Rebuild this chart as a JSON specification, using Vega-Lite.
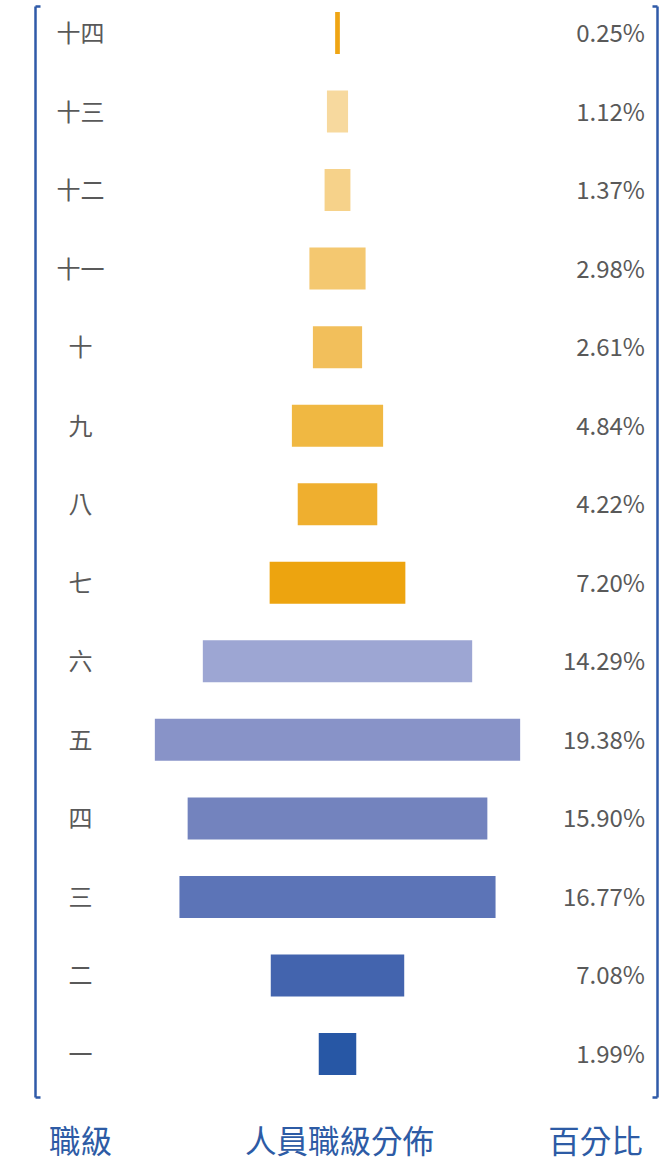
{
  "$schema": "https://vega.github.io/schema/vega-lite/v6.json",
  "width": 622,
  "height": 1091,
  "autosize": {"type": "none"},
  "padding": {"left": 35, "top": 6, "right": 14, "bottom": 63},
  "background": "white",
  "config": {"font": "Noto Sans CJK TC", "view": {"stroke": null}},
  "data": {
    "values": [
      {"level": "十四", "pct": 0.0025},
      {"level": "十三", "pct": 0.0112},
      {"level": "十二", "pct": 0.0137},
      {"level": "十一", "pct": 0.0298},
      {"level": "十", "pct": 0.0261},
      {"level": "九", "pct": 0.0484},
      {"level": "八", "pct": 0.0422},
      {"level": "七", "pct": 0.0720},
      {"level": "六", "pct": 0.1429},
      {"level": "五", "pct": 0.1938},
      {"level": "四", "pct": 0.1590},
      {"level": "三", "pct": 0.1677},
      {"level": "二", "pct": 0.0708},
      {"level": "一", "pct": 0.0199}
    ]
  },
  "layer": [
    {
      "mark": {"type": "bar"},
      "encoding": {
        "x": {
          "field": "pct",
          "type": "quantitative",
          "stack": "center",
          "scale": {"domain": [-0.06358, 0.2664], "nice": false, "zero": false},
          "axis": {
            "orient": "bottom",
            "domain": true,
            "domainColor": "#2F5AA8",
            "domainWidth": 2.5,
            "domainDash": [5, 612],
            "ticks": false,
            "labels": false,
            "grid": false,
            "title": "人員職級分佈",
            "titleFontSize": 31.5,
            "titleFontWeight": "normal",
            "titleColor": "#2D5BA5",
            "titleX": 304,
            "titleY": 46,
            "titleAlign": "center",
            "titleBaseline": "middle"
          }
        },
        "y": {
          "field": "level",
          "type": "nominal",
          "sort": null,
          "scale": {"paddingInner": 0.465, "paddingOuter": 0.178, "align": 0.214},
          "axis": {
            "orient": "left",
            "domain": true,
            "domainColor": "#2F5AA8",
            "domainWidth": 2.5,
            "ticks": false,
            "tickSize": 0,
            "grid": false,
            "labelPadding": -45,
            "labelOffset": 2,
            "labelAlign": "center",
            "labelBaseline": "middle",
            "labelFontSize": 24,
            "labelColor": "#595959",
            "labelOverlap": false,
            "title": "職級",
            "titleAngle": 0,
            "titleX": 45,
            "titleY": 1137,
            "titleAlign": "center",
            "titleBaseline": "middle",
            "titleFontSize": 31.5,
            "titleFontWeight": "normal",
            "titleColor": "#2D5BA5"
          }
        },
        "color": {
          "field": "level",
          "type": "nominal",
          "sort": null,
          "legend": null,
          "scale": {
            "domain": ["十四", "十三", "十二", "十一", "十", "九", "八", "七", "六", "五", "四", "三", "二", "一"],
            "range": ["#EFA514", "#F7D99E", "#F6D28A", "#F4C870", "#F2BF5B", "#F0B842", "#EFAF2F", "#EDA40F", "#9DA6D3", "#8893C8", "#7383BE", "#5C74B7", "#4364AE", "#2757A5"]
          }
        }
      }
    },
    {
      "mark": {"type": "text", "align": "right", "baseline": "middle", "dy": 2, "fontSize": 24, "color": "#595959"},
      "encoding": {
        "x": {
          "datum": 0.26003,
          "type": "quantitative",
          "axis": {
            "orient": "top",
            "domain": true,
            "domainColor": "#2F5AA8",
            "domainWidth": 2.5,
            "domainDash": [5, 612],
            "ticks": false,
            "labels": false,
            "grid": false,
            "title": null
          }
        },
        "y": {
          "field": "level",
          "type": "nominal",
          "sort": null,
          "axis": {
            "orient": "right",
            "domain": true,
            "domainColor": "#2F5AA8",
            "domainWidth": 2.5,
            "ticks": false,
            "tickSize": 0,
            "labels": false,
            "grid": false,
            "title": "百分比",
            "titleAngle": 0,
            "titleX": -62,
            "titleY": 1137,
            "titleAlign": "center",
            "titleBaseline": "middle",
            "titleFontSize": 31.5,
            "titleFontWeight": "normal",
            "titleColor": "#2D5BA5"
          }
        },
        "text": {"field": "pct", "type": "quantitative", "format": ".2%"}
      }
    }
  ],
  "resolve": {"axis": {"x": "independent", "y": "independent"}}
}
